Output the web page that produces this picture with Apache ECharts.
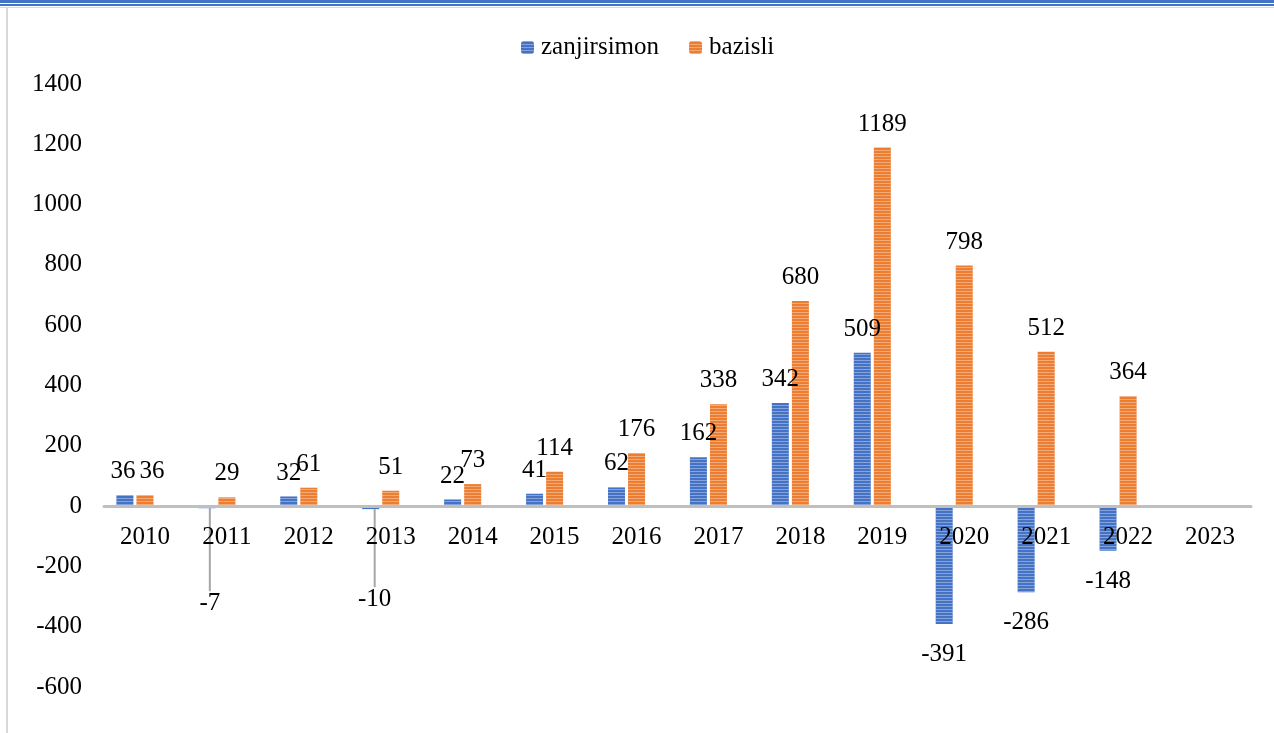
<!DOCTYPE html>
<html>
<head>
<meta charset="utf-8">
<script src="https://cdn.jsdelivr.net/npm/echarts@6/dist/echarts.min.js"></script>
<style>
  html, body { margin: 0; padding: 0; background: #fff; }
  #frame { position: relative; width: 1274px; height: 733px; overflow: hidden; }
  #topA { position: absolute; left: 0; top: 0; width: 1274px; height: 3px; background: #4472c4; }
  #topB { position: absolute; left: 0; top: 4px; width: 1274px; height: 2px; background: #4472c4; }
  #topC { position: absolute; left: 0; top: 7px; width: 1274px; height: 1px; background: #d9d9d9; }
  #leftLine { position: absolute; left: 6px; top: 8px; width: 2px; height: 725px; background: #d9d9d9; }
  #chart { position: absolute; left: 0; top: 0; width: 1274px; height: 733px; }
</style>
</head>
<body>
<div id="frame">
  <div id="chart"></div>
  <div id="topA"></div>
  <div id="topB"></div>
  <div id="topC"></div>
  <div id="leftLine"></div>
</div>
<script>
const years = ["2010", "2011", "2012", "2013", "2014", "2015", "2016", "2017", "2018", "2019", "2020", "2021", "2022", "2023"];
const zanjirsimon = [36, -7, 32, -10, 22, 41, 62, 162, 342, 509, -391, -286, -148, null];
const bazisli = [36, 29, 61, 51, 73, 114, 176, 338, 680, 1189, 798, 512, 364, null];

const font = "'Liberation Serif', serif";

// stripe pattern like the original fill
const stripes = {
  symbol: "rect",
  symbolSize: 1,
  dashArrayX: [[1, 0]],
  dashArrayY: [1, 2],
  rotation: 0,
  color: "rgba(255,255,255,0.35)",
};

// negative values get their label below the bar
const toData = (arr, leaders) =>
  arr.map((v, i) => ({
    value: v,
    label: { position: v !== null && v < 0 ? "bottom" : "top", distance: v < 0 ? 18 : 11 },
    labelLine: { show: !!(leaders && leaders.includes(i)) },
  }));

const chart = echarts.init(document.getElementById("chart"));

chart.setOption({
  animation: false,
  textStyle: { fontFamily: font, color: "#000" },
  legend: {
    left: 516,
    top: 30,
    itemWidth: 13,
    itemHeight: 13,
    itemGap: 30,
    textStyle: { fontFamily: font, fontSize: 25, color: "#000", padding: [0, 0, 0, 2] },
    data: ["zanjirsimon", "bazisli"],
  },
  grid: { left: 104, right: 23, top: 84, bottom: 46 },
  xAxis: {
    type: "category",
    data: years,
    position: "bottom",
    offset: -181, // sit on the zero line, labels just under it
    z: 5, // year labels are drawn over the negative bars
    axisLine: { onZero: false, lineStyle: { color: "#bfbfbf", width: 3 } },
    axisTick: { show: false },
    axisLabel: { fontFamily: font, fontSize: 25, color: "#000", margin: 19 },
  },
  yAxis: {
    type: "value",
    min: -600,
    max: 1400,
    interval: 200,
    axisLine: { show: false },
    axisTick: { show: false },
    splitLine: { show: false },
    axisLabel: { fontFamily: font, fontSize: 25, color: "#000", margin: 22, formatter: (v) => String(v) },
  },
  series: [
    {
      name: "zanjirsimon",
      type: "bar",
      data: toData(zanjirsimon, [1, 3]),
      barWidth: 17,
      barGap: "18%",
      itemStyle: { color: "#4472c4", decal: stripes },
      label: { show: true, fontFamily: font, fontSize: 25, color: "#000" },
      labelLine: { show: false, lineStyle: { color: "#a6a6a6", width: 2 } },
      // the two small negatives were dragged down with a leader line
      labelLayout: (p) => {
        if (p.dataIndex === 1) return { dx: 3, dy: 65 };
        if (p.dataIndex === 3) return { dx: 4, dy: 60 };
        if (p.dataIndex === 0) return { dx: -2 };
        return {};
      },
    },
    {
      name: "bazisli",
      type: "bar",
      data: toData(bazisli),
      barWidth: 17,
      barGap: "18%",
      itemStyle: { color: "#ed7d31", decal: stripes },
      label: { show: true, fontFamily: font, fontSize: 25, color: "#000" },
      labelLayout: (p) => (p.dataIndex === 0 ? { dx: 7 } : {}),
    },
    {
      // empty third series from the source sheet, keeps the bars off-centre
      name: "",
      type: "bar",
      data: [],
      barWidth: 17,
      barGap: "18%",
    },
  ],
});

window.addEventListener("resize", () => {
  chart.resize();
});
</script>
</body>
</html>
